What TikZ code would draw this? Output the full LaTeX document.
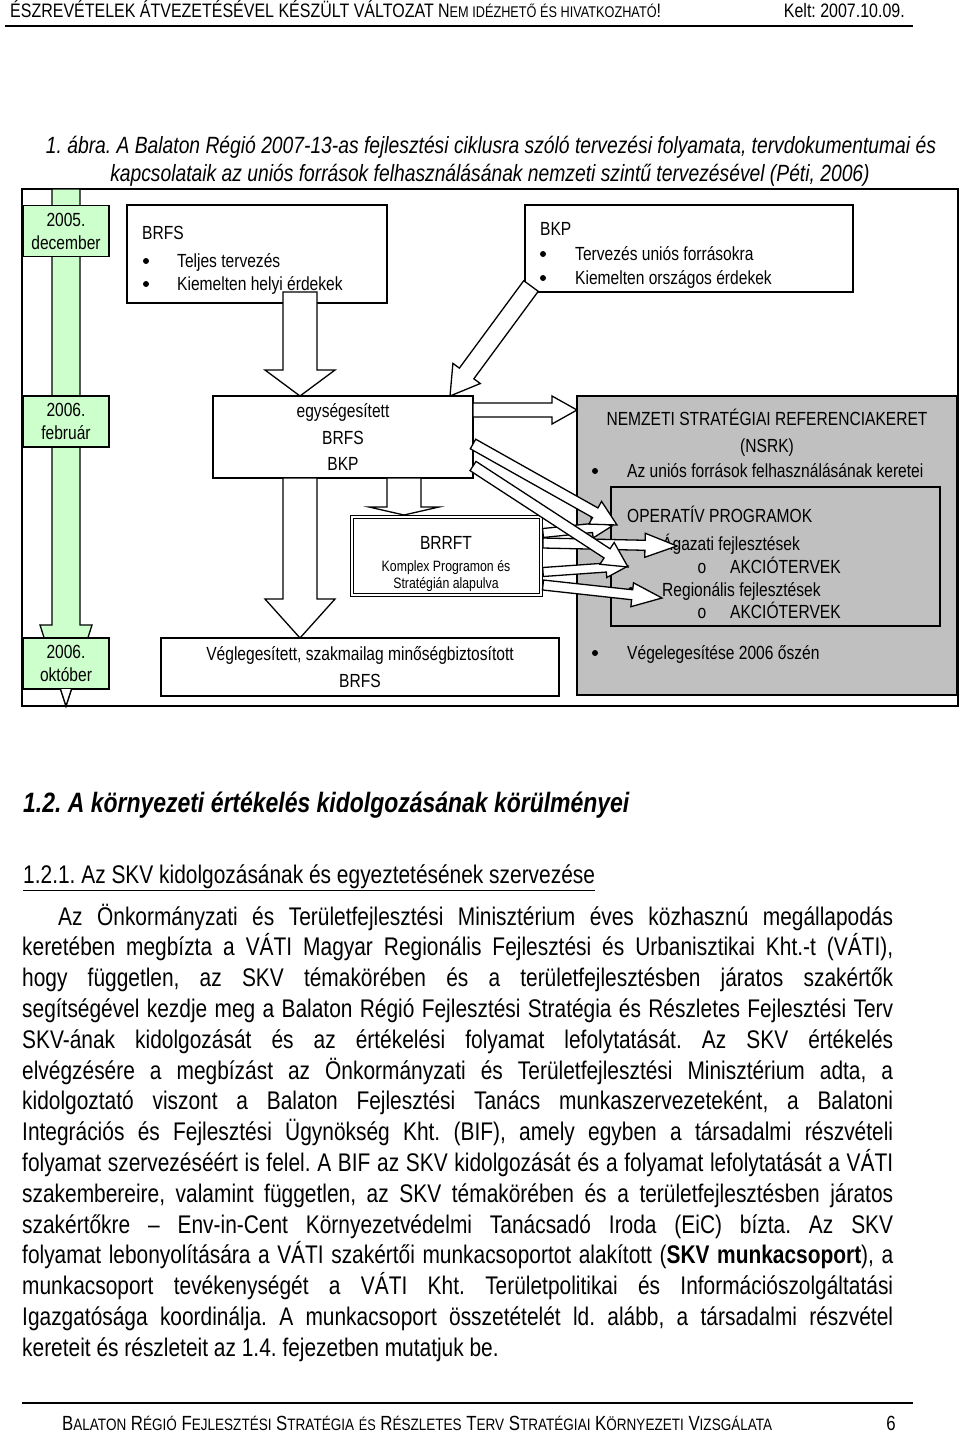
\documentclass[tikz,border=0pt]{standalone}
\usepackage{fontspec}
\setmainfont[FakeStretch=0.82]{Liberation Sans}
\usetikzlibrary{calc,positioning}
\frenchspacing

\definecolor{timegreen}{RGB}{204,255,204}
\definecolor{nsrkgray}{RGB}{192,192,192}

% block arrow: [opts]{from}{to}{shaft half width}{head half width}{head length}
\newcommand\fatarrow[6][]{%
  \coordinate (fa base) at ($(#3)!#6pt!(#2)$);
  \draw[fatarr,#1] ($(#2)!#4pt!90:(#3)$) -- ($(fa base)!#4pt!-90:(#2)$) -- ($(fa base)!#5pt!-90:(#2)$) -- (#3)
    -- ($(fa base)!#5pt!90:(#2)$) -- ($(fa base)!#4pt!90:(#2)$) -- ($(#2)!#4pt!-90:(#3)$) -- cycle;}
\newcommand\hdsc[1]{{\fontsize{15.5}{15.5}\selectfont #1}}
\newcommand\fsc[2]{#1{\fontsize{16.5}{16.5}\selectfont #2}}

\tikzset{
  box/.style={draw, line width=1.3pt, fill=white, inner sep=0pt},
  datebox/.style={box, fill=timegreen, minimum width=86, minimum height=51, align=center, font=\fontsize{19}{23}\selectfont},
  txt/.style={anchor=base west, inner sep=0pt, font=\fontsize{19}{19}\selectfont},
  ctxt/.style={txt, anchor=base},
  small/.style={ctxt, font=\fontsize{15}{15}\selectfont},
  bul/.style={circle, fill, inner sep=0pt, minimum size=6},
  fatarr/.style={draw, line width=1.3pt, fill=white},
  bodyline/.style={anchor=base west, inner sep=0pt, font=\fontsize{25.5}{30.8}\selectfont},
}

\begin{document}
\begin{tikzpicture}[x=1pt, y=-1pt]
\useasboundingbox (0,0) rectangle (960,1433);
\fill[white] (0,0) rectangle (960,1433);

% page header
\node[txt, font=\fontsize{19.5}{19.5}\selectfont] (hdr) at (10,17) {ÉSZREVÉTELEK ÁTVEZETÉSÉVEL KÉSZÜLT VÁLTOZAT N\hdsc{EM IDÉZHETŐ ÉS HIVATKOZHATÓ}!};
\node[txt, anchor=base east, font=\fontsize{19.5}{19.5}\selectfont] (kelt) at (905,17) {Kelt: 2007.10.09.};
\draw[line width=1.2pt] (5,26) -- (913,26);

\node[ctxt, font=\fontsize{23.5}{23.5}\selectfont\itshape] (cap1) at (491,153) {1. ábra. A Balaton Régió 2007-13-as fejlesztési ciklusra szóló tervezési folyamata, tervdokumentumai és};
\node[ctxt, font=\fontsize{23.5}{23.5}\selectfont\itshape] (cap2) at (490,181) {kapcsolataik az uniós források felhasználásának nemzeti szintű tervezésével (Péti, 2006)};

% diagram
\draw[line width=1.3pt] (22,189) rectangle (958,706);

\coordinate (tl top) at (66,189);
\coordinate (tl tip) at (66,706);
\fatarrow[fill=timegreen]{tl top}{tl tip}{14}{26}{81}
\node[datebox] (dec05) at (66,231) {2005.\\december};
\node[datebox] (feb06) at (66,421.5) {2006.\\február};
\node[datebox] (oct06) at (66,663.5) {2006.\\október};
\draw[line width=1.3pt, fill=white] (60.5,689) -- (tl tip) -- (71.5,689);

\node[box, minimum width=260, minimum height=98] (brfs) at (257,254) {};
\node[box, minimum width=328, minimum height=87] (bkp) at (689,248.5) {};
\node[box, minimum width=260, minimum height=82, align=center, font=\fontsize{19}{26.5}\selectfont] (egys) at (343,437) {egységesített\\BRFS\\BKP};
\node[box, fill=nsrkgray, minimum width=380, minimum height=299] (nsrk) at (767,545.5) {};
\node[box, fill=nsrkgray, minimum width=329, minimum height=139] (op) at (775.5,556.5) {};
\node[box, double, double distance=2.5pt, line width=1pt, minimum width=189, minimum height=78] (brrft) at (446.5,556) {};
\node[box, minimum width=398, minimum height=58, align=center, font=\fontsize{19}{27}\selectfont] (vegl) at (360,667) {Véglegesített, szakmailag minőségbiztosított\\BRFS};

\node[txt] (brfs-t) at (142,239) {BRFS};
\node[bul] (brfs-b1) at (146,261) {};
\node[txt] (brfs-l1) at (177,267) {Teljes tervezés};
\node[bul] (brfs-b2) at (146,284) {};
\node[txt] (brfs-l2) at (177,290) {Kiemelten helyi érdekek};

\node[txt] (bkp-t) at (540,235) {BKP};
\node[bul] (bkp-b1) at (543,254) {};
\node[txt] (bkp-l1) at (575,260) {Tervezés uniós forrásokra};
\node[bul] (bkp-b2) at (543,278) {};
\node[txt] (bkp-l2) at (575,284) {Kiemelten országos érdekek};

\node[ctxt] (nsrk-t1) at (767,425) {NEMZETI STRATÉGIAI REFERENCIAKERET};
\node[ctxt] (nsrk-t2) at (767,452) {(NSRK)};
\node[bul] (nsrk-b1) at (595,471) {};
\node[txt] (nsrk-l1) at (627,477) {Az uniós források felhasználásának keretei};
\node[bul] (nsrk-b2) at (595,653) {};
\node[txt] (nsrk-l2) at (627,659) {Végelegesítése 2006 őszén};

\node[txt] (op-t) at (627,522) {OPERATÍV PROGRAMOK};
\node[bul] (op-b1) at (631,544) {};
\node[txt] (op-l1) at (662,550) {Ágazati fejlesztések};
\node[ctxt] (op-o1) at (702,573) {o};
\node[txt] (op-l2) at (730,573) {AKCIÓTERVEK};
\node[bul] (op-b2) at (631,590) {};
\node[txt] (op-l3) at (662,596) {Regionális fejlesztések};
\node[ctxt] (op-o2) at (702,618) {o};
\node[txt] (op-l4) at (730,618) {AKCIÓTERVEK};

\node[ctxt] (brrft-t) at (446,549) {BRRFT};
\node[small] (brrft-l1) at (446,571) {Komplex Programon és};
\node[small] (brrft-l2) at (446,588) {Stratégián alapulva};

% block arrows
\coordinate (brfs out) at (300,292);
\coordinate (egys in1) at (300,396);
\coordinate (bkp out) at (531,286);
\coordinate (egys in2) at (450,396);
\coordinate (egys out1) at (473,410);
\coordinate (nsrk in) at (577,410);
\coordinate (egys out2) at (473,444);
\coordinate (op in1) at (617,525);
\coordinate (egys out3) at (473,466);
\coordinate (op in2) at (628,567);
\coordinate (egys out4) at (404,478);
\coordinate (brrft in) at (404,515);
\coordinate (egys out5) at (300,478);
\coordinate (vegl in) at (300,638);
\coordinate (brrft out1) at (543,533);
\coordinate (op in3) at (612,526);
\coordinate (brrft out2) at (543,543);
\coordinate (op in4) at (677,546);
\coordinate (brrft out3) at (543,572);
\coordinate (op in5) at (628,566);
\coordinate (brrft out4) at (543,585);
\coordinate (op in6) at (662,598);

\fatarrow{brfs out}{egys in1}{17}{35}{26}
\fatarrow{bkp out}{egys in2}{9}{17}{28}
\fatarrow{egys out1}{nsrk in}{7}{14}{25}
\fatarrow{egys out4}{brrft in}{17}{35}{8}
\fatarrow{egys out5}{vegl in}{17}{35}{39}
\fatarrow{brrft out1}{op in3}{4.5}{10}{20}
\fatarrow{brrft out2}{op in4}{5}{12}{32}
\fatarrow{brrft out3}{op in5}{4.5}{10}{22}
\fatarrow{brrft out4}{op in6}{5}{12}{30}
\fatarrow{egys out2}{op in1}{5.5}{13}{25}
\fatarrow{egys out3}{op in2}{5.5}{13}{25}

% text below
\node[txt, font=\fontsize{28}{28}\selectfont\bfseries\itshape] (sec) at (23,812) {1.2. A környezeti értékelés kidolgozásának körülményei};
\node[bodyline] (subsec) at (23,883) {\underline{1.2.1. Az SKV kidolgozásának és egyeztetésének szervezése}};

\node[bodyline] (line1) at (58,925) {\makebox[835pt][s]{Az Önkormányzati és Területfejlesztési Minisztérium éves közhasznú megállapodás}};
\foreach \txt [count=\i from 2] in {
  {keretében megbízta a VÁTI Magyar Regionális Fejlesztési és Urbanisztikai Kht.-t (VÁTI),},
  {hogy független, az SKV témakörében és a területfejlesztésben járatos szakértők},
  {segítségével kezdje meg a Balaton Régió Fejlesztési Stratégia és Részletes Fejlesztési Terv},
  {SKV-ának kidolgozását és az értékelési folyamat lefolytatását. Az SKV értékelés},
  {elvégzésére a megbízást az Önkormányzati és Területfejlesztési Minisztérium adta, a},
  {kidolgoztató viszont a Balaton Fejlesztési Tanács munkaszervezeteként, a Balatoni},
  {Integrációs és Fejlesztési Ügynökség Kht. (BIF), amely egyben a társadalmi részvételi},
  {folyamat szervezéséért is felel. A BIF az SKV kidolgozását és a folyamat lefolytatását a VÁTI},
  {szakembereire, valamint független, az SKV témakörében és a területfejlesztésben járatos},
  {szakértőkre – Env-in-Cent Környezetvédelmi Tanácsadó Iroda (EiC) bízta. Az SKV},
  {folyamat lebonyolítására a VÁTI szakértői munkacsoportot alakított (\textbf{SKV munkacsoport}), a},
  {munkacsoport tevékenységét a VÁTI Kht. Területpolitikai és Információszolgáltatási},
  {Igazgatósága koordinálja. A munkacsoport összetételét ld. alább, a társadalmi részvétel}}
  \node[bodyline] (line\i) at (22,{925+30.8*(\i-1)}) {\makebox[871pt][s]{\txt}};
\node[bodyline] (line15) at (22,1356.2) {kereteit és részleteit az 1.4. fejezetben mutatjuk be.};

% page footer
\draw[line width=1.2pt] (22,1403) -- (913,1403);
\node[txt, font=\fontsize{20.5}{20.5}\selectfont] (ftr) at (62,1430) {\fsc{B}{ALATON} \fsc{R}{ÉGIÓ} \fsc{F}{EJLESZTÉSI} \fsc{S}{TRATÉGIA} \hdsc{ÉS} \fsc{R}{ÉSZLETES} \fsc{T}{ERV} \fsc{S}{TRATÉGIAI} \fsc{K}{ÖRNYEZETI} \fsc{V}{IZSGÁLATA}};
\node[txt, anchor=base east, font=\fontsize{20.5}{20.5}\selectfont] (pageno) at (896,1430) {6};
\end{tikzpicture}
\end{document}
